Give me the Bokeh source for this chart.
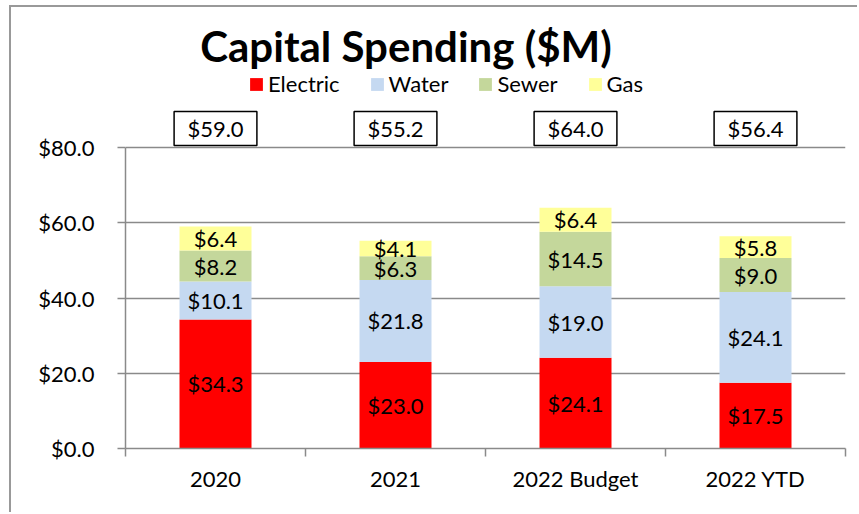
import numpy as np
from bokeh.plotting import figure
from bokeh.models import (ColumnDataSource, Range1d, FixedTicker, PrintfTickFormatter,
                          Legend, LegendItem, Label)
from bokeh.core.properties import value
from bokeh.embed import file_html
from bokeh.resources import INLINE

# ---------------- data ----------------
categories = ["2020", "2021", "2022 Budget", "2022 YTD"]
series = ["Electric", "Water", "Sewer", "Gas"]
electric = [34.3, 23.0, 24.1, 17.5]
water = [10.1, 21.8, 19.0, 24.1]
sewer = [8.2, 6.3, 14.5, 9.0]
gas = [6.4, 4.1, 6.4, 5.8]
y_ticks = [0, 20, 40, 60, 80]
title_text = "Capital Spending ($M)"

# ---------------- styles ----------------
colors = ["#FF0000", "#C5D9F1", "#C4D79B", "#FFFF99"]
FONT = "Lato"
GRID = "#8a8a8a"

W, H = 848, 507
MB_L, MB_R, MB_T, MB_B = 114, 14, 0, 66
frame_h = H - MB_T - MB_B          # frame spans page y 7 .. 448
px_per_unit = 301 / 80.0
ymax = frame_h / px_per_unit
FB = 448                            # page y of frame bottom

x = np.arange(len(categories)) + 0.5
src = ColumnDataSource(dict(x=x, Electric=electric, Water=water, Sewer=sewer, Gas=gas))

p = figure(width=W, height=H, x_range=Range1d(0, len(categories)), y_range=Range1d(0, ymax),
           output_backend="svg", toolbar_location=None, title=None,
           min_border_left=MB_L, min_border_right=MB_R, min_border_top=MB_T, min_border_bottom=MB_B)
p.outline_line_color = None
p.styles = {"margin-left": "9px", "margin-top": "5px",
            "border-left": "2px solid #999999", "border-top": "2px solid #999999"}

renderers = p.vbar_stack(series, x="x", width=0.4, fill_color=colors, line_color=None, source=src)

# segment labels
vals = np.array([electric, water, sewer, gas])
cum = np.cumsum(vals, axis=0)
mids = cum - vals / 2.0
lx, ly, lt = [], [], []
for i in range(vals.shape[0]):
    for j in range(vals.shape[1]):
        lx.append(x[j]); ly.append(mids[i, j]); lt.append("$%.1f" % vals[i, j])
p.text(x=lx, y=ly, text=lt, text_align="center", text_baseline="middle",
       text_font=value(FONT), text_font_size="22px", text_color="black")

# total boxes
totals = vals.sum(axis=0)
box_y = (FB - 128) / px_per_unit
box_h = 34 / px_per_unit
p.rect(x=x, y=[box_y] * len(x), width=0.46, height=box_h, fill_color="white",
       line_color="black", line_width=1.5)
p.text(x=x, y=[box_y] * len(x), text=["$%.1f" % t for t in totals], text_align="center",
       text_baseline="middle", text_font=value(FONT), text_font_size="22px", text_color="black")

# title
p.add_layout(Label(x=(405.5 - 125) / 180.0, y=(FB - 45) / px_per_unit, text=title_text,
                   text_font=FONT, text_font_style="bold", text_font_size="42px",
                   text_align="center", text_baseline="alphabetic", text_color="black"))

# legend
legend = Legend(items=[LegendItem(label=s, renderers=[r]) for s, r in zip(series, renderers)],
                orientation="horizontal", location=(123, 351), margin=0, padding=0,
                glyph_width=16, glyph_height=16, label_standoff=4, spacing=29,
                border_line_color=None, background_fill_alpha=0,
                label_text_font=FONT, label_text_font_size="22px", label_text_color="black")
p.add_layout(legend)

# y axis
yt = FixedTicker(ticks=y_ticks)
p.yaxis.ticker = yt
p.ygrid.ticker = yt
p.yaxis.formatter = PrintfTickFormatter(format="$%.1f")
p.yaxis.bounds = (0, 80)
p.yaxis.major_tick_in = 0
p.yaxis.major_tick_out = 8
p.yaxis.minor_tick_line_color = None
p.yaxis.axis_line_color = GRID
p.yaxis.axis_line_width = 1.5
p.yaxis.major_tick_line_color = GRID
p.yaxis.major_tick_line_width = 1.5
p.yaxis.major_label_standoff = 23
p.yaxis.major_label_text_font = FONT
p.yaxis.major_label_text_font_size = "22px"
p.yaxis.major_label_text_color = "black"

# x axis
p.xaxis.ticker = FixedTicker(ticks=list(x), minor_ticks=list(range(len(categories) + 1)))
p.xaxis.major_label_overrides = {float(xi): c for xi, c in zip(x, categories)}
p.xaxis.major_tick_line_color = None
p.xaxis.major_tick_in = 0
p.xaxis.major_tick_out = 8
p.xaxis.minor_tick_in = 0
p.xaxis.minor_tick_out = 8
p.xaxis.minor_tick_line_color = GRID
p.xaxis.minor_tick_line_width = 1.5
p.xaxis.axis_line_color = GRID
p.xaxis.axis_line_width = 1.5
p.xaxis.major_label_standoff = 8
p.xaxis.major_label_text_font = FONT
p.xaxis.major_label_text_font_size = "22px"
p.xaxis.major_label_text_color = "black"

p.xgrid.visible = False
p.ygrid.grid_line_color = GRID
p.ygrid.grid_line_width = 1.5

open("out.html", "w").write(file_html(p, INLINE))
